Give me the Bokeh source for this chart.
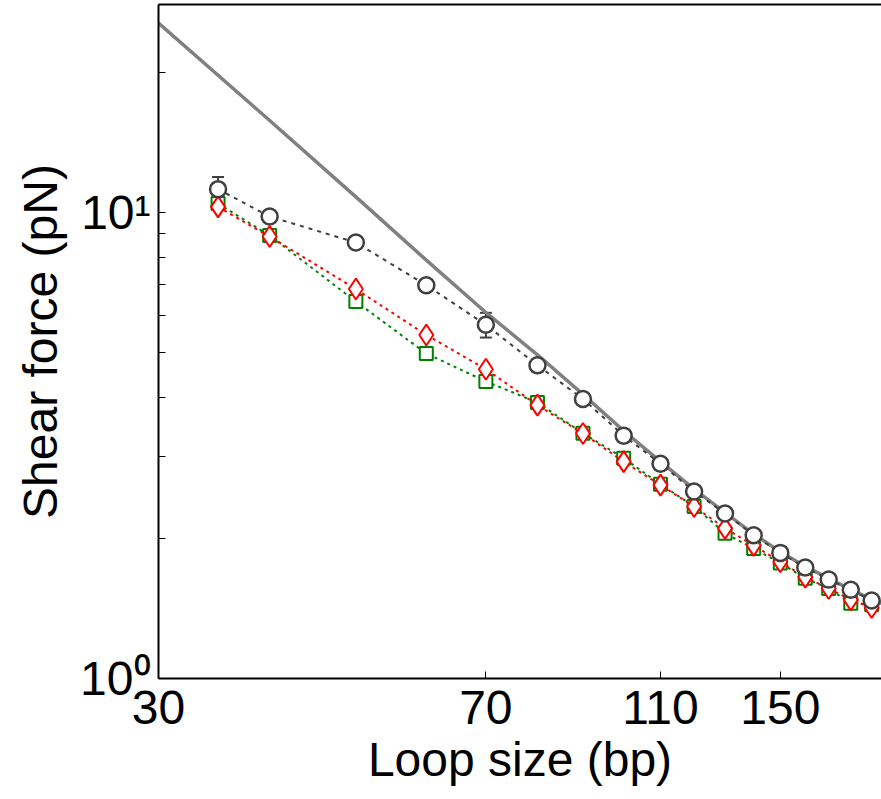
from bokeh.plotting import figure
from bokeh.models import FixedTicker, LogAxis, Whisker, ColumnDataSource, TeeHead, Range1d
from bokeh.embed import file_html
from bokeh.resources import INLINE

# ---- data ----
loop_size = [35, 40, 50, 60, 70, 80, 90, 100, 110, 120, 130, 140, 150, 160, 170, 180, 190]
force_circle = [11.22, 9.80, 8.62, 6.98, 5.74, 4.70, 3.98, 3.32, 2.89, 2.52, 2.26, 2.03, 1.86, 1.73, 1.63, 1.55, 1.47]
err_circle = [0.70, 0.25, 0.20, 0.20, 0.35, 0.15, 0.12, 0.10, 0.08, 0.07, 0.06, 0.05, 0.05, 0.04, 0.04, 0.04, 0.03]
force_diamond = [10.28, 8.88, 6.85, 5.46, 4.61, 3.86, 3.355, 2.92, 2.60, 2.34, 2.10, 1.93, 1.78, 1.65, 1.56, 1.475, 1.42]
force_square = [10.45, 8.92, 6.44, 4.98, 4.34, 3.91, 3.36, 2.97, 2.61, 2.34, 2.05, 1.90, 1.77, 1.64, 1.56, 1.45, 1.44]
model_size = [30, 40, 50, 60, 70, 80, 90, 100, 110, 120, 130, 140, 150, 160, 170, 180, 190, 195]
model_force = [25.5, 15.75, 10.8, 7.9, 6.1, 4.95, 4.07, 3.40, 2.92, 2.55, 2.27, 2.04, 1.87, 1.74, 1.64, 1.55, 1.48, 1.45]
x_ticks = [30, 70, 110, 150]
y_ticks = [1, 2, 3, 4, 5, 6, 7, 8, 9, 10, 20]
y_tick_labels = {1: "10\u2070", 10: "10\u00b9"}

FONT = "Liberation Sans"

p = figure(width=881, height=799, x_axis_type="log", y_axis_type="log",
           x_range=Range1d(30, 194.9), y_range=Range1d(1, 27.94),
           output_backend="svg", toolbar_location=None,
           min_border_left=158, min_border_right=0, min_border_top=4, min_border_bottom=121)
p.outline_line_color = None
p.xgrid.visible = False
p.ygrid.visible = False
p.background_fill_color = "white"

# model line
p.line(model_size, model_force, line_color="#808080", line_width=3.5)

src = ColumnDataSource(dict(x=loop_size, c=force_circle, d=force_diamond, s=force_square,
                            up=[c + e for c, e in zip(force_circle, err_circle)],
                            lo=[c - e for c, e in zip(force_circle, err_circle)]))

# green squares
p.line("x", "s", source=src, line_color="#008000", line_width=2, line_dash="3 4")
p.scatter("x", "s", source=src, marker="square", size=13, line_color="#008000", line_width=2, fill_color="white")
# red diamonds
p.line("x", "d", source=src, line_color="#ff0000", line_width=2, line_dash="3 4")
p.scatter("x", "d", source=src, marker="diamond", size=21, line_color="#ff0000", line_width=2, fill_color="white")
# gray circles with error bars
p.line("x", "c", source=src, line_color="#404040", line_width=2, line_dash="4 5")
w = Whisker(source=src, base="x", upper="up", lower="lo", line_color="#404040", line_width=2,
            upper_head=TeeHead(size=12, line_color="#404040", line_width=2),
            lower_head=TeeHead(size=12, line_color="#404040", line_width=2))
p.add_layout(w)
p.scatter("x", "c", source=src, marker="circle", size=16, line_color="#404040", line_width=2.5, fill_color="white")

# axes
for ax in (p.xaxis[0], p.yaxis[0]):
    ax.axis_line_width = 2
    ax.axis_line_color = "black"
    ax.major_tick_in = 7
    ax.major_tick_out = 0
    ax.major_tick_line_width = 1
    ax.minor_tick_line_color = None
    ax.major_label_text_font = FONT
    ax.major_label_text_font_size = "48px"
    ax.major_label_text_color = "black"
    ax.axis_label_text_font = FONT
    ax.axis_label_text_font_size = "48px"
    ax.axis_label_text_font_style = "normal"
    ax.axis_label_text_color = "black"

p.xaxis.ticker = FixedTicker(ticks=x_ticks)
p.xaxis.major_label_overrides = {t: str(t) for t in x_ticks}
p.xaxis.major_label_standoff = 12
p.xaxis.axis_label = "Loop size (bp)"
p.xaxis.axis_label_standoff = 6

p.yaxis.ticker = FixedTicker(ticks=y_ticks)
p.yaxis.major_label_overrides = {t: y_tick_labels.get(t, "") for t in y_ticks}
p.yaxis.major_label_standoff = 8
p.yaxis.axis_label = "Shear force (pN)"
p.yaxis.axis_label_standoff = 10

top = LogAxis(ticker=FixedTicker(ticks=[]), major_tick_in=0, major_tick_out=0,
              minor_tick_line_color=None, major_label_standoff=0,
              major_label_text_font_size="0px", axis_line_width=2, axis_line_color="black")
p.add_layout(top, "above")

open("out.html", "w").write(file_html(p, INLINE))
